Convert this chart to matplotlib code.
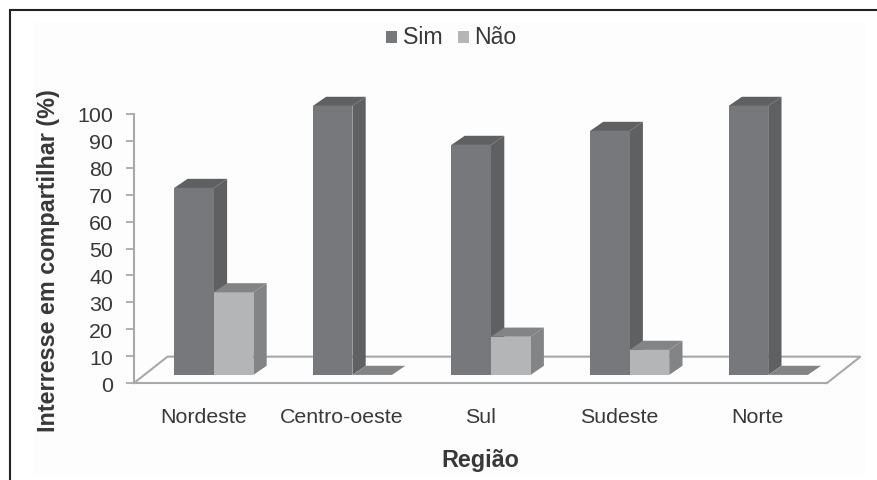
import matplotlib
matplotlib.use("Agg")
import matplotlib.pyplot as plt

regioes = ["Nordeste", "Centro-oeste", "Sul", "Sudeste", "Norte"]
sim = [69.5, 100, 85.5, 90.7, 100]
nao = [30.7, 0, 14.2, 9.3, 0]
yticks = [0, 10, 20, 30, 40, 50, 60, 70, 80, 90, 100]

W, H = 877, 481
plt.rcParams["font.family"] = ["Liberation Sans", "DejaVu Sans"]

fig = plt.figure(figsize=(W / 100, H / 100), dpi=100)

# page background, very slightly off white
bg = fig.add_axes([0, 0, 1, 1])
bg.set_xlim(0, W)
bg.set_ylim(H, 0)
bg.axis("off")
bg.add_patch(plt.Rectangle((33, 23), 832, 454, color="#fdfdfd", lw=0))

# axes box in pixels: x 134-827, y 115-384
ax = fig.add_axes([134 / W, 1 - 384 / H, 693 / W, 269 / H])
ax.set_xlim(-0.5, 4.5)
ax.set_ylim(0, 100)
ax.patch.set_alpha(0)

dx = 13.3 / 138.6   # depth of the bars
dy = 3.4
base = 3.0          # bars stand a bit behind the front edge of the floor
bw = 39.6 / 138.6
off = 10.5 / 138.6  # groups are shifted a little to the right of the tick


def bar3d(x, v, front, top, side):
    y1 = base + v
    if v > 0:
        ax.fill([x + bw, x + bw + dx, x + bw + dx, x + bw],
                [base, base + dy, y1 + dy, y1], color=side, lw=0, zorder=3, clip_on=False)
        ax.bar(x, v, bw, bottom=base, color=front, align="edge", zorder=3, clip_on=False)
    ax.fill([x, x + dx, x + bw + dx, x + bw],
            [y1, y1 + dy, y1 + dy, y1], color=top, lw=0, zorder=3, clip_on=False)


for i in range(len(regioes)):
    x0 = i + off - bw
    x1 = i + off
    bar3d(x0, sim[i], "#77787b", "#5f6062", "#5f6062")
    bar3d(x1, nao[i], "#b4b5b7", "#838486", "#838486")

# floor
floor_c = "#a8a9ab"
fx = 33.5 / 138.6
fy = 9.8
ax.plot([-0.5, -0.5 + fx, 4.5 + fx, 4.5], [0, fy, fy, 0], color=floor_c, lw=1.5,
        clip_on=False, zorder=1, solid_joinstyle="miter")

for s in ["top", "right"]:
    ax.spines[s].set_visible(False)
for s in ["left", "bottom"]:
    ax.spines[s].set_color(floor_c)
    ax.spines[s].set_linewidth(1.5)

txt = "#38383a"
ax.set_yticks(yticks)
ax.set_xticks(range(len(regioes)))
ax.set_xticklabels(regioes)
ax.tick_params(axis="x", length=0, pad=17, labelsize=15.4, labelcolor=txt)
ax.tick_params(axis="y", length=6, width=1.3, color=floor_c, pad=9, labelsize=15.4, labelcolor=txt)

fig.text(49 / W, 1 - 261 / H, "Interresse em compartilhar (%)", rotation=90, ha="center", va="center",
         fontsize=16.8, fontweight="bold", color=txt)
fig.text(480 / W, 1 - 460 / H, "Região", ha="center", va="center",
         fontsize=16.8, fontweight="bold", color=txt)

# legend
leg = fig.add_axes([0, 0, 1, 1])
leg.set_xlim(0, W)
leg.set_ylim(H, 0)
leg.axis("off")
leg.patch.set_alpha(0)
leg.add_patch(plt.Rectangle((386, 32), 11, 12, color="#77787b", lw=0))
leg.text(403, 38, "Sim", fontsize=16.7, va="center", color=txt)
leg.add_patch(plt.Rectangle((458, 32), 11, 12, color="#b4b5b7", lw=0))
leg.text(474, 38, "Não", fontsize=16.7, va="center", color=txt)

# frame of the scanned page
leg.plot([10, 10, W], [H, 11, 11], color="#222222", lw=1.5, solid_joinstyle="miter", clip_on=False)

fig.savefig("out.png", dpi=100)
